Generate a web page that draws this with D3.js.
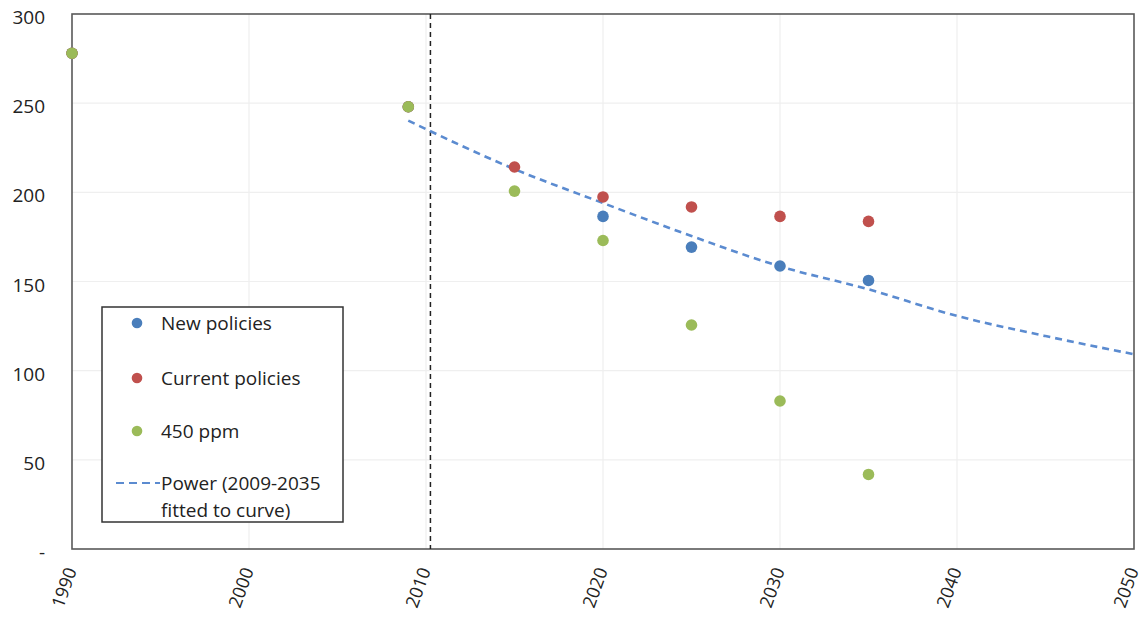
<!DOCTYPE html>
<html>
<head>
<meta charset="utf-8">
<script src="https://cdn.jsdelivr.net/npm/d3@7"></script>
<style>
  html, body { margin: 0; padding: 0; background: #fff; }
  svg { display: block; font-family: "Open Sans", sans-serif; }
</style>
</head>
<body>
<svg id="chart" width="1144" height="617"></svg>
<script>
// ---- data ----
const years = [1990, 2009, 2015, 2020, 2025, 2030, 2035];
const newPolicies = [278, 248, null, 186.5, 169.3, 158.7, 150.6];
const currentPolicies = [278, 248, 214.2, 197.4, 191.8, 186.5, 183.7];
const ppm450 = [278, 248, 200.7, 173, 125.6, 83, 41.8];
const trendYears = [2009, 2015, 2020, 2025, 2030, 2035, 2040, 2045, 2050];
const trendValues = [240.2, 213, 194, 175.5, 158.5, 145.6, 130.7, 119.4, 109.2];
const markerYear = [2010.25];
const xTicks = [1990, 2000, 2010, 2020, 2030, 2040, 2050];
const yTicks = [0, 50, 100, 150, 200, 250, 300];
const yTickLabels = ["-", "50", "100", "150", "200", "250", "300"];
const seriesNames = ["New policies", "Current policies", "450 ppm"];
const trendName = ["Power (2009-2035", "fitted to curve)"];

const colors = { blue: "#4A7EBB", red: "#C0504D", green: "#9BBB59", trend: "#5B8BD0" };

// ---- layout ----
const svg = d3.select("#chart");
const L = 72, R = 1134, T = 14, B = 549;
const x = d3.scaleLinear().domain([1990, 2050]).range([L, R]);
const y = d3.scaleLinear().domain([0, 300]).range([B, T]);

// gridlines
svg.append("g").selectAll("line").data(yTicks.slice(1, -1)).join("line")
  .attr("x1", L).attr("x2", R).attr("y1", d => y(d)).attr("y2", d => y(d))
  .attr("stroke", "#efefef").attr("stroke-width", 1.2);
svg.append("g").selectAll("line").data(xTicks.slice(1, -1)).join("line")
  .attr("y1", T).attr("y2", B).attr("x1", d => x(d)).attr("x2", d => x(d))
  .attr("stroke", "#efefef").attr("stroke-width", 1.2);

// y axis labels
const yAxis = d3.axisLeft(y).tickValues(yTicks).tickSize(0).tickPadding(0)
  .tickFormat((d, i) => yTickLabels[i]);
const gy = svg.append("g").attr("transform", `translate(${L - 27},0)`).call(yAxis);
gy.select(".domain").remove();
gy.selectAll("text").attr("font-size", 19).attr("fill", "#222")
  .attr("font-family", "Open Sans, sans-serif").attr("dy", "0.5em");

// x axis labels
const xAxis = d3.axisBottom(x).tickValues(xTicks).tickSize(0).tickPadding(0)
  .tickFormat(d3.format("d"));
const gx = svg.append("g").attr("transform", `translate(0,${B})`).call(xAxis);
gx.select(".domain").remove();
gx.selectAll("text").attr("font-size", 18).attr("fill", "#222")
  .attr("font-family", "Open Sans, sans-serif")
  .attr("text-anchor", "end").attr("dy", null).attr("y", 0)
  .attr("transform", "translate(-2,19) rotate(-70)")
  .attr("dominant-baseline", "central");

// plot frame
svg.append("rect").attr("x", L).attr("y", T).attr("width", R - L).attr("height", B - T)
  .attr("fill", "none").attr("stroke", "#595959").attr("stroke-width", 1.6);

// vertical dashed marker
svg.append("g").selectAll("line").data(markerYear).join("line")
  .attr("x1", d => x(d)).attr("x2", d => x(d)).attr("y1", T).attr("y2", B)
  .attr("stroke", "#222").attr("stroke-width", 1.5).attr("stroke-dasharray", "5,4");

// trend line
const trendData = trendYears.map((yr, i) => ({ yr, v: trendValues[i] }));
svg.append("path").datum(trendData)
  .attr("d", d3.line().x(d => x(d.yr)).y(d => y(d.v)).curve(d3.curveMonotoneX))
  .attr("fill", "none").attr("stroke", colors.trend).attr("stroke-width", 2.6)
  .attr("stroke-dasharray", "7,5");

// points
const series = [
  { name: seriesNames[0], vals: newPolicies, color: colors.blue },
  { name: seriesNames[1], vals: currentPolicies, color: colors.red },
  { name: seriesNames[2], vals: ppm450, color: colors.green }
];
series.forEach(s => {
  const pts = years.map((yr, i) => ({ yr, v: s.vals[i] })).filter(d => d.v != null);
  svg.append("g").selectAll("circle").data(pts).join("circle")
    .attr("cx", d => x(d.yr)).attr("cy", d => y(d.v)).attr("r", 5.8)
    .attr("fill", s.color);
});

// legend
const lg = svg.append("g");
lg.append("rect").attr("x", 102).attr("y", 307).attr("width", 241).attr("height", 215)
  .attr("fill", "#fff").attr("stroke", "#333").attr("stroke-width", 1.5);
const legendY = [323, 378, 431];
series.forEach((s, i) => {
  lg.append("circle").attr("cx", 137).attr("cy", legendY[i]).attr("r", 5.3).attr("fill", s.color);
  lg.append("text").attr("x", 161).attr("y", legendY[i]).attr("dy", "0.36em")
    .attr("font-size", 19).attr("fill", "#222").text(s.name);
});
lg.append("line").attr("x1", 116).attr("x2", 160).attr("y1", 483).attr("y2", 483)
  .attr("stroke", colors.trend).attr("stroke-width", 2).attr("stroke-dasharray", "8,5");
trendName.forEach((t, i) => {
  lg.append("text").attr("x", 161).attr("y", 483 + i * 27).attr("dy", "0.36em")
    .attr("font-size", 19).attr("fill", "#222").text(t);
});
</script>
</body>
</html>
